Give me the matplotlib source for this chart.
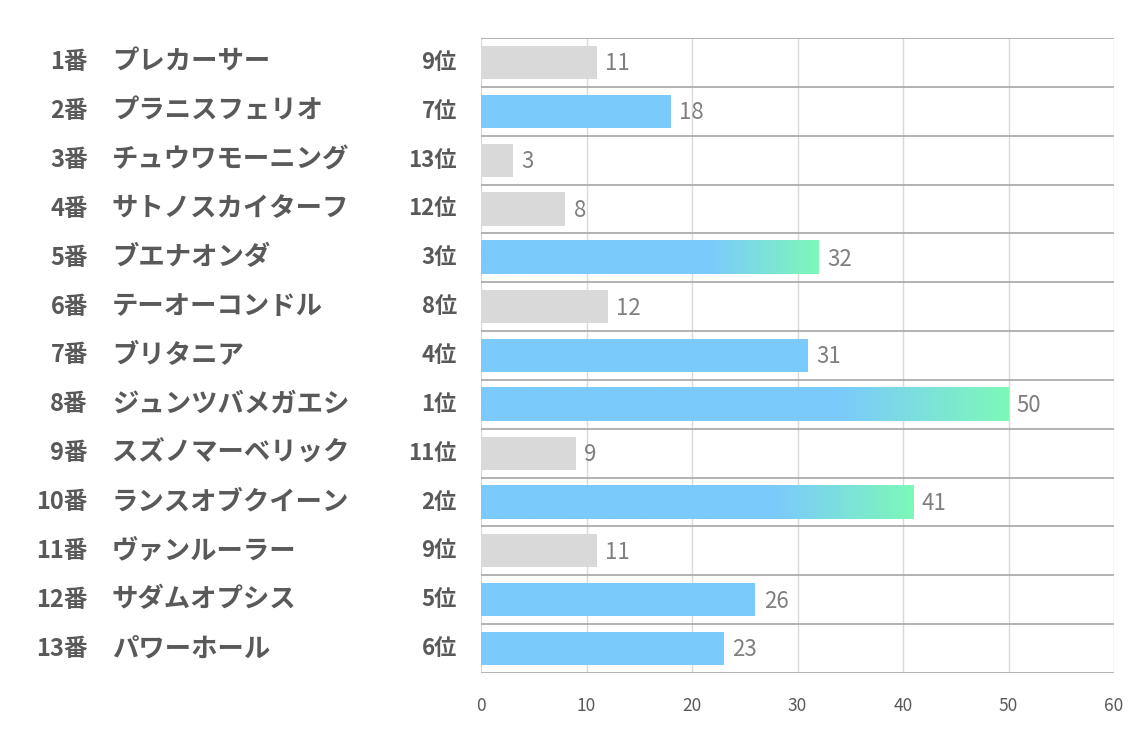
import numpy as np
import matplotlib
matplotlib.use('Agg')
from matplotlib import pyplot as plt
from matplotlib.colors import LinearSegmentedColormap

plt.rcParams['font.family'] = ['Noto Sans CJK JP', 'DejaVu Sans']

numbers = ['1番', '2番', '3番', '4番', '5番', '6番', '7番', '8番', '9番', '10番', '11番', '12番', '13番']
names = ['プレカーサー', 'プラニスフェリオ', 'チュウワモーニング', 'サトノスカイターフ', 'ブエナオンダ',
         'テーオーコンドル', 'ブリタニア', 'ジュンツバメガエシ', 'スズノマーベリック', 'ランスオブクイーン',
         'ヴァンルーラー', 'サダムオプシス', 'パワーホール']
ranks = [9, 7, 13, 12, 3, 8, 4, 1, 11, 2, 9, 5, 6]
scores = [11, 18, 3, 8, 32, 12, 31, 50, 9, 41, 11, 26, 23]
xticks = [0, 10, 20, 30, 40, 50, 60]

blue = '#7bcafc'
green = '#7df8b9'
grey = '#d9d9d9'
txt = '#595959'

fig = plt.figure(figsize=(11.34, 7.37), dpi=100)
ax = fig.add_axes([481 / 1134, 1 - 673 / 737, 633 / 1134, 635 / 737])

n = len(scores)
ys = np.arange(n)[::-1]
h = 0.68
grad = LinearSegmentedColormap.from_list('g', [(0, blue), (0.68, blue), (1, green)])

for y, v, r in zip(ys, scores, ranks):
    if r <= 3:
        ax.imshow(np.linspace(0, 1, 256)[None, :], cmap=grad, aspect='auto',
                  extent=(0, v, y - h / 2, y + h / 2), zorder=2, interpolation='bilinear')
    elif r <= 7:
        ax.barh(y, v, height=h, color=blue, zorder=2)
    else:
        ax.barh(y, v, height=h, color=grey, zorder=2)
    ax.annotate(str(v), (v, y), xytext=(6, -1), textcoords='offset points',
                va='center', ha='left', fontsize=16, color='#7f7f7f')

ax.set_xlim(0, 60)
ax.set_ylim(-0.5, n - 0.5)
ax.set_xticks(xticks)
ax.set_yticks([])
for x in xticks:
    ax.axvline(x, color='#d9d9d9', lw=1, zorder=1)
for k in range(n + 1):
    ax.axhline(k - 0.5, color='#a6a6a6', lw=1.2, zorder=3)
for s in ax.spines.values():
    s.set_visible(False)
ax.tick_params(axis='x', length=0, pad=17, labelsize=12.5, labelcolor=txt)

tr = ax.get_yaxis_transform()
for y, num, nm, r in zip(ys, numbers, names, ranks):
    ax.text(-0.621, y, num, transform=tr, ha='right', va='center', fontsize=17,
            fontweight='bold', color=txt)
    ax.text(-0.583, y, nm, transform=tr, ha='left', va='center', fontsize=19,
            fontweight='bold', color=txt)
    ax.text(-0.038, y, f'{r}位', transform=tr, ha='right', va='center', fontsize=16,
            fontweight='bold', color=txt)

fig.savefig('out.png', dpi=100)
